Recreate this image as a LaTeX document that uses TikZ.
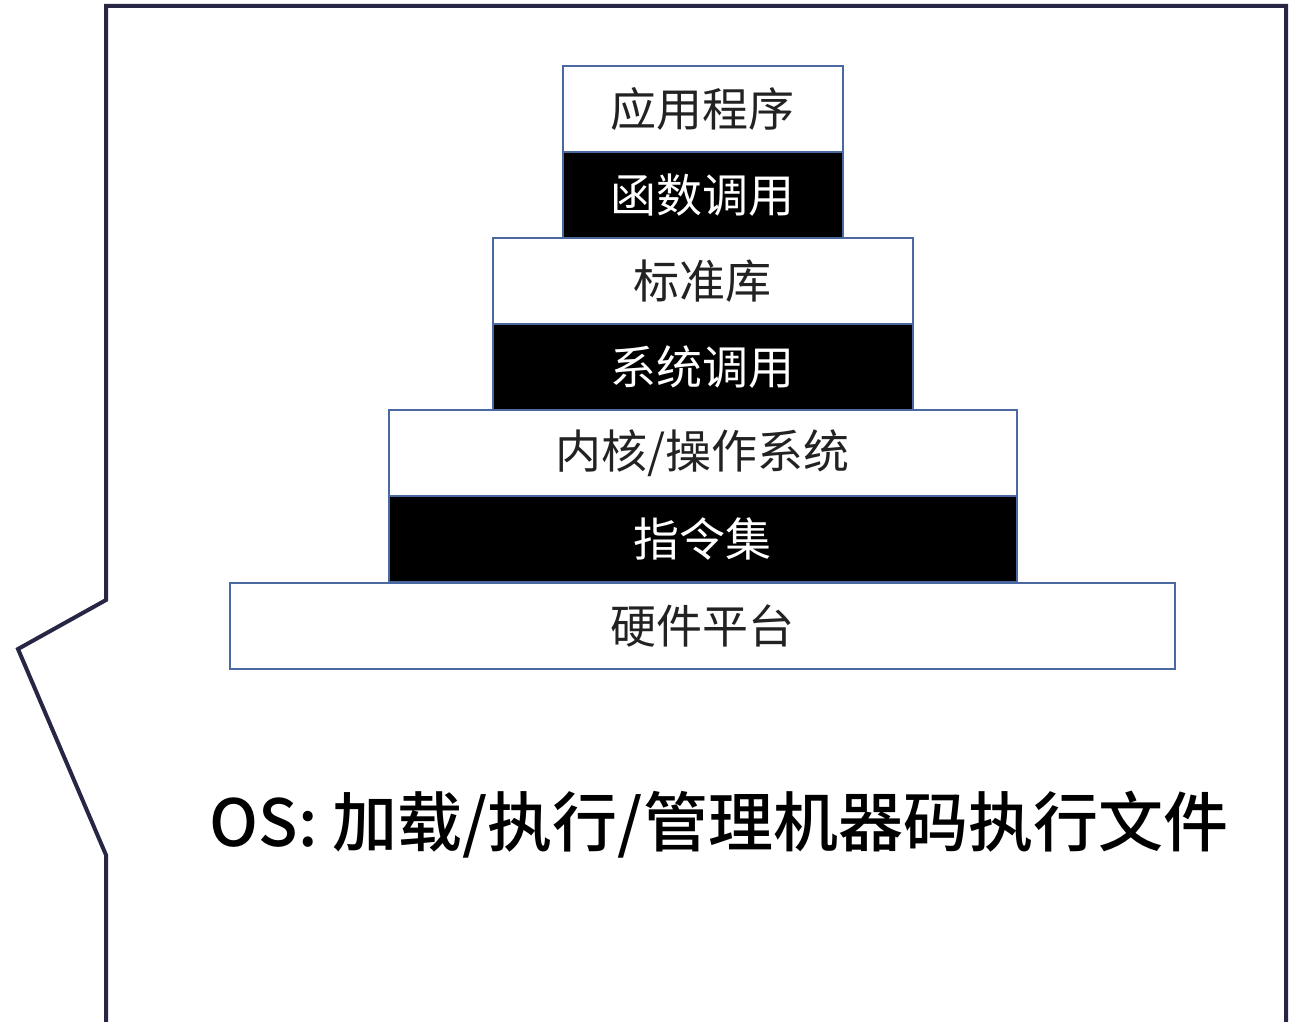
\documentclass[tikz,border=0pt]{standalone}
\usepackage{fontspec}
\newfontfamily\cjk{Noto Sans CJK SC}
\newfontfamily\cjkm{Noto Sans CJK SC Medium}
\definecolor{frame}{HTML}{272644}
\definecolor{boxedge}{HTML}{4A69A0}
\definecolor{txt}{HTML}{222222}
\begin{document}
\begin{tikzpicture}[x=1pt,y=-1pt,
  layer/.style={draw=boxedge,line width=1.6pt,minimum height=86pt,inner sep=0pt,anchor=north west,
     font=\cjk\fontsize{46}{52}\selectfont},
  light/.style={layer,fill=white,text=txt},
  dark/.style={layer,fill=black,text=white}]
\useasboundingbox (0,0) rectangle (1301,1022);
\begin{scope}
\clip (0,0) rectangle (1301,1022);
\coordinate (b1) at (106,1040);
\coordinate (p1) at (106,855);
\coordinate (tip) at (18,649);
\coordinate (p2) at (106,600);
\coordinate (tl) at (106,6);
\coordinate (tr) at (1286,6);
\coordinate (b2) at (1286,1040);
\draw[frame,line width=4pt,line join=miter] (b1) -- (p1) -- (tip) -- (p2) -- (tl) -- (tr) -- (b2);
\end{scope}
\node[light,minimum width=280pt] (app) at (562,65) {应用程序};
\node[dark,minimum width=280pt] (func) at (562,151) {函数调用};
\node[light,minimum width=420pt] (lib) at (492,237) {标准库};
\node[dark,minimum width=420pt] (sys) at (492,323) {系统调用};
\node[light,minimum width=628pt] (kern) at (388,409) {内核/操作系统};
\node[dark,minimum width=628pt] (isa) at (388,495) {指令集};
\node[light,minimum width=945pt] (hw) at (229,582) {硬件平台};
\node[font=\cjkm\fontsize{65}{70}\selectfont,text=black,inner sep=0pt] (os) at (719,825) {OS: 加载/执行/管理机器码执行文件};
\end{tikzpicture}
\end{document}
